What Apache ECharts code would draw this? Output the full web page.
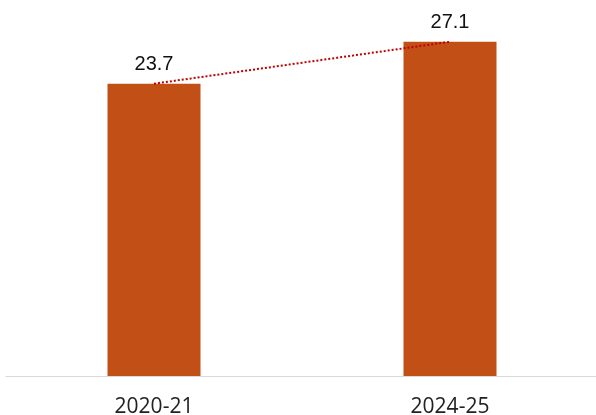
<!DOCTYPE html>
<html>
<head>
<meta charset="utf-8">
<script src="https://cdn.jsdelivr.net/npm/echarts@6/dist/echarts.min.js"></script>
<style>
  html, body { margin: 0; padding: 0; background: #fff; }
  #container { width: 596px; height: 415px; }
</style>
</head>
<body>
<div id="container"></div>
<script>
    var categories = ['2020-21', '2024-25'];
    var values = [23.7, 27.1];

    var myChart = echarts.init(document.getElementById('container'));
    var option = {
        animation: false,
        grid: { left: 6, right: -2, top: 6, bottom: 39, outerBoundsMode: 'none' },
        xAxis: {
            type: 'category',
            data: categories,
            axisTick: { show: false },
            axisLine: { lineStyle: { color: '#d9d9d9', width: 1 } },
            axisLabel: {
                color: '#222',
                fontSize: 21,
                fontFamily: 'Open Sans',
                margin: 21
            }
        },
        yAxis: {
            type: 'value',
            min: 0,
            max: 30,
            show: false,
            splitLine: { show: false }
        },
        series: [
            {
                type: 'bar',
                data: values,
                barWidth: 93,
                itemStyle: { color: '#C24F16' },
                label: {
                    show: true,
                    position: 'top',
                    distance: 9,
                    color: '#111',
                    fontSize: 20,
                    fontFamily: 'Liberation Sans'
                }
            },
            {
                type: 'line',
                data: values,
                symbol: 'none',
                lineStyle: { color: '#C00000', width: 2, type: 'dotted' },
                z: 5
            }
        ]
    };
    myChart.setOption(option);
</script>
</body>
</html>
